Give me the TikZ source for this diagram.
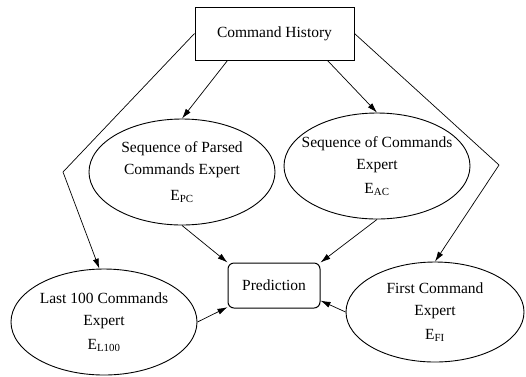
\documentclass[tikz,border=0pt]{standalone}
\usepackage{fontspec}
\setmainfont{Liberation Serif}
\usetikzlibrary{shapes.geometric,arrows.meta}

\tikzset{
  expert/.style={ellipse,draw,line width=0.9pt,minimum width=186pt,minimum height=106pt,inner xsep=-18pt,inner ysep=0pt,align=center},
  feed/.style={line width=0.7pt,-{Latex[length=10pt,width=6pt]}}
}

\begin{document}
\begin{tikzpicture}[x=1pt,y=-1pt,font=\fontsize{15.5}{22}\selectfont]
\useasboundingbox (0,0) rectangle (526,376);

\node (hist)[rectangle,draw,line width=1pt,minimum width=159pt,minimum height=53pt] at (274.5,33.5) {Command History};
\node (pred)[rectangle,draw,line width=1pt,rounded corners=6pt,minimum width=92pt,minimum height=45pt] at (274,285.5) {Prediction};

\node (parsed)[expert] at (182,172) {Sequence of Parsed\\Commands Expert\\[4pt]E\textsubscript{PC}};
\node (cmds)[expert] at (377,166) {Sequence of Commands\\Expert\\[2pt]E\textsubscript{AC}};
\node (last)[expert] at (104,322) {Last 100 Commands\\Expert\\[2pt]E\textsubscript{L100}};
\node (first)[expert,minimum width=178pt,minimum height=100pt] at (435,312) {First Command\\Expert\\[2pt]E\textsubscript{FI}};

\coordinate (bendL) at (63,172);
\coordinate (bendR) at (499,165);

\draw[feed] (hist.south west) ++(33,0) coordinate (outL) (outL) -- (parsed.north);
\draw[feed] (hist.south east) ++(-27,0) coordinate (outR) (outR) -- (cmds.north);
\draw[feed] (hist.west) -- (bendL) -- (last.95);
\draw[feed] (hist.east) -- (bendR) -- (first.north);

\draw[feed] (parsed.south) -- (pred.north west);
\draw[feed] (cmds.south) -- (pred.north east);
\draw[feed] (last.east) -- (pred.205);
\draw[feed] (first.west) -- (pred.-18);
\end{tikzpicture}
\end{document}
